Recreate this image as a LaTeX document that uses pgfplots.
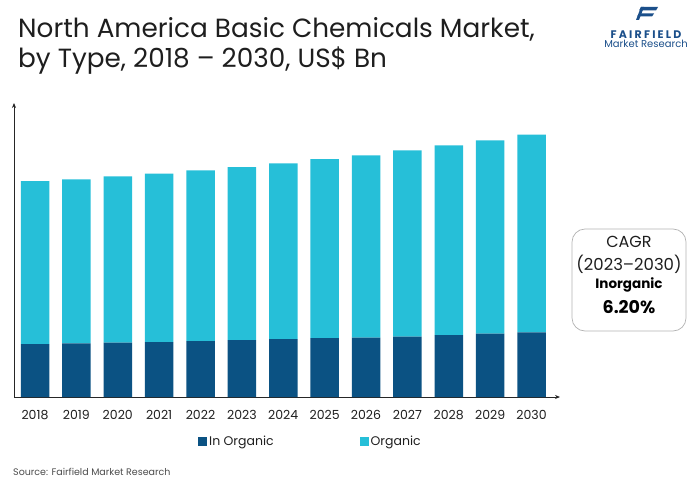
\documentclass[border=0pt]{standalone}
\usepackage{fontspec}
\setmainfont{Poppins}
\usepackage{pgfplots}
\usetikzlibrary{arrows.meta}
\pgfplotsset{compat=1.18}
\definecolor{inorg}{HTML}{0B5283}
\definecolor{org}{HTML}{26BFD8}
\definecolor{titlec}{HTML}{1E1E1E}
\definecolor{logoc}{HTML}{1B4F8A}
\begin{document}
\begin{tikzpicture}[x=1pt,y=1pt]
\path[use as bounding box] (0pt,0pt) rectangle (700pt,491pt);
% title
\node[anchor=base west, inner sep=0pt, text=titlec, font=\fontsize{26.3}{30}\selectfont] at (18pt,453pt) {North America Basic Chemicals Market,};
\node[anchor=base west, inner sep=0pt, text=titlec, font=\fontsize{26.3}{30}\selectfont] at (18pt,423pt) {by Type, 2018 -- 2030, US\$ Bn};
% logo
\fill[logoc] (641pt,484pt) -- (658pt,484pt) -- (656pt,480.5pt) -- (639pt,480.5pt) -- cycle;
\fill[logoc] (639pt,477.5pt) -- (654pt,477.5pt) -- (652pt,474.5pt) -- (637pt,474.5pt) -- cycle;
\fill[logoc] (641pt,484pt) -- (644pt,484pt) -- (639pt,471pt) -- (636pt,471pt) -- cycle;
\node[anchor=base, inner sep=0pt, text=logoc, font=\bfseries\fontsize{11}{12}\selectfont\addfontfeature{LetterSpace=20}] at (646pt,452.7pt) {FAIRFIELD};
\node[anchor=base, inner sep=0pt, text=logoc, font=\fontsize{10}{11}\selectfont] at (646pt,443pt) {Market Research};
\begin{axis}[
  at={(14pt,94pt)}, anchor=south west,
  scale only axis, width=546pt, height=294pt,
  ybar stacked, bar width=28.5pt,
  xmin=-0.5076, xmax=12.689, ymin=0, ymax=294,
  axis lines=left,
  axis line style={draw=black!85, line width=0.8pt, -{Stealth[length=5pt,width=4pt]}},
  ytick=\empty,
  xtick=data,
  xticklabels={2018,2019,2020,2021,2022,2023,2024,2025,2026,2027,2028,2029,2030},
  major tick length=0pt,
  xticklabel style={font=\fontsize{12.5}{14}\selectfont, text=titlec, yshift=-10pt},
  legend columns=2,
  legend style={at={(0.337,-0.152)}, anchor=west, draw=none, fill=none, inner sep=0pt,
    font=\fontsize{12.5}{14}\selectfont, text=titlec,
    /tikz/every even column/.append style={column sep=84pt}},
  legend image code/.code={\fill[#1] (0pt,-4.5pt) rectangle (9pt,4.5pt);},
]
\addplot[fill=inorg, draw=none] coordinates {(0,53) (1,53.7) (2,54.3) (3,55) (4,56) (5,57) (6,58) (7,59) (8,59.3) (9,60.3) (10,62) (11,63.3) (12,64.7)};
\addplot[fill=org, draw=none] coordinates {(0,163) (1,164) (2,166.4) (3,168.3) (4,170.7) (5,173) (6,175.7) (7,179) (8,182.4) (9,186.4) (10,189.7) (11,193.4) (12,197.6)};
\legend{In Organic, Organic}
\end{axis}
% CAGR box
\draw[black!30, line width=0.7pt, rounded corners=13pt] (572pt,160pt) rectangle (686pt,262pt);
\node[anchor=center, inner sep=0pt, text=titlec, font=\fontsize{16}{18}\selectfont] at (629pt,249pt) {CAGR};
\node[anchor=center, inner sep=0pt, text=titlec, font=\fontsize{16.5}{18}\selectfont] at (629pt,227pt) {(2023--2030)};
\node[anchor=center, inner sep=0pt, text=black, font=\fontsize{13.5}{15}\selectfont\bfseries] at (629pt,206pt) {Inorganic};
\node[anchor=center, inner sep=0pt, text=black, font=\fontsize{17.5}{19}\selectfont\bfseries] at (629pt,184pt) {6.20\%};
% source
\node[anchor=base west, inner sep=0pt, text=black!70, font=\fontsize{9.5}{10}\selectfont] at (13pt,16pt) {Source: Fairfield Market Research};
\end{tikzpicture}
\end{document}
